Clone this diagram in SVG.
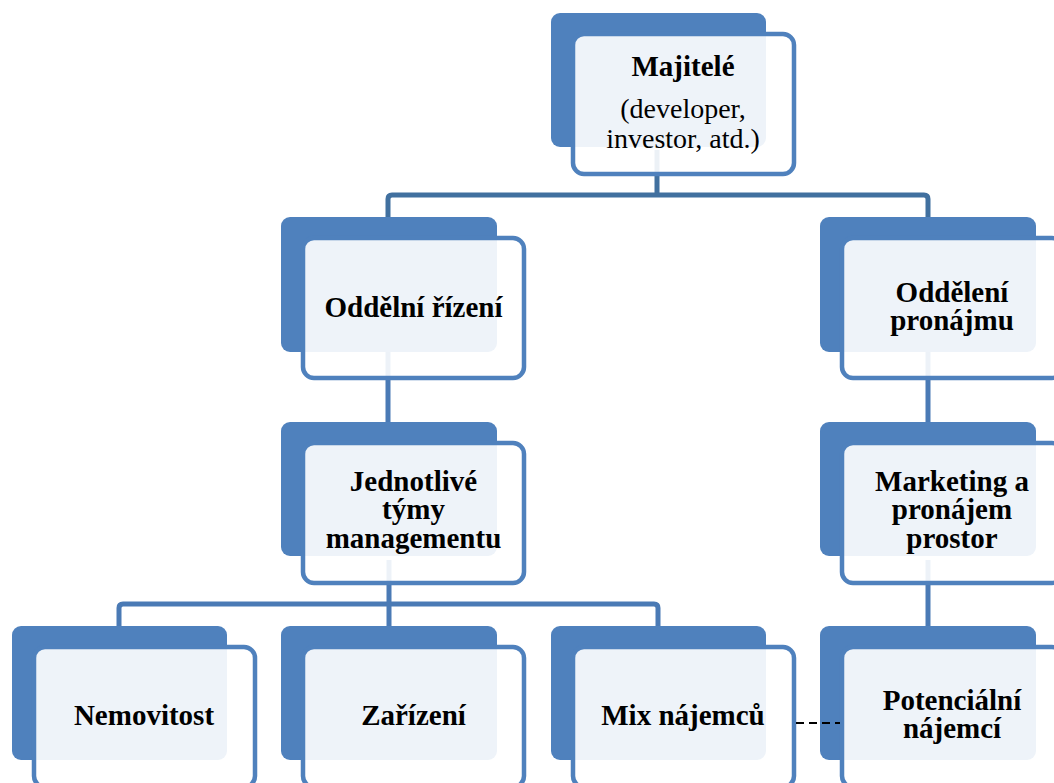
<svg xmlns="http://www.w3.org/2000/svg" width="1054" height="783" viewBox="0 0 1054 783">
<style>
.back{fill:#4F81BD}
.front{fill:#FFFFFF;fill-opacity:0.9;stroke:#4F81BD;stroke-width:4.5}
.conn{fill:none;stroke-width:5;stroke-linejoin:round}
.c1{stroke:#41709F}
.c2{stroke:#4A7AB5}
.dash{fill:none;stroke:#000;stroke-width:2;stroke-dasharray:8 5}
.t{font-size:29px;text-anchor:middle;fill:#000}
.b{font-weight:bold}
.r{font-size:28px;font-weight:normal}
</style>
<rect width="1054" height="783" fill="#FFFFFF"/>
<g id="connectors">
<path class="conn c1" d="M657,150 V195 M388,240 V199 Q388,195 392,195 H924 Q928,195 928,199 V240"/>
<path class="conn c2" d="M388,340 V430 M928,340 V430"/>
<path class="conn c2" d="M389,560 V630 M119,630 V608 Q119,604 123,604 H654 Q658,604 658,608 V630"/>
<path class="conn c2" d="M928,560 V635"/>
</g>
<g font-family="Liberation Serif, DejaVu Serif, serif">
<g id="n-majitele">
<rect class="back" x="551" y="13" width="215" height="134" rx="9"/>
<rect class="front" x="573" y="34" width="221" height="140" rx="11"/>
<text class="t b" x="683" y="76">Majitelé</text>
<text class="t r" x="683" y="118">(developer,</text>
<text class="t r" x="683" y="148">investor, atd.)</text>
</g>
<g id="n-rizeni">
<rect class="back" x="281" y="217" width="216" height="135" rx="9"/>
<rect class="front" x="303" y="238" width="221" height="140" rx="11"/>
<text class="t b" x="413.5" y="317">Oddělní řízení</text>
</g>
<g id="n-pronajmu">
<rect class="back" x="820" y="217" width="216" height="135" rx="9"/>
<rect class="front" x="842" y="238" width="221" height="140" rx="11"/>
<text class="t b" x="952" y="302">Oddělení</text>
<text class="t b" x="952" y="330">pronájmu</text>
</g>
<g id="n-tymy">
<rect class="back" x="281" y="422" width="216" height="134" rx="9"/>
<rect class="front" x="303" y="443" width="221" height="140" rx="11"/>
<text class="t b" x="413.5" y="491">Jednotlivé</text>
<text class="t b" x="413.5" y="519">týmy</text>
<text class="t b" x="413.5" y="548">managementu</text>
</g>
<g id="n-marketing">
<rect class="back" x="820" y="422" width="216" height="134" rx="9"/>
<rect class="front" x="842" y="443" width="221" height="140" rx="11"/>
<text class="t b" x="952" y="491">Marketing a</text>
<text class="t b" x="952" y="519">pronájem</text>
<text class="t b" x="952" y="548">prostor</text>
</g>
<g id="n-nemovitost">
<rect class="back" x="12" y="626" width="215" height="134" rx="9"/>
<rect class="front" x="34" y="647" width="221" height="140" rx="11"/>
<text class="t b" x="144" y="725">Nemovitost</text>
</g>
<g id="n-zarizeni">
<rect class="back" x="281" y="626" width="216" height="134" rx="9"/>
<rect class="front" x="303" y="647" width="221" height="140" rx="11"/>
<text class="t b" x="413.5" y="725">Zařízení</text>
</g>
<g id="n-mix">
<rect class="back" x="551" y="626" width="215" height="134" rx="9"/>
<rect class="front" x="573" y="647" width="221" height="140" rx="11"/>
<text class="t b" x="683" y="725">Mix nájemců</text>
</g>
<g id="n-potencialni">
<rect class="back" x="820" y="626" width="216" height="134" rx="9"/>
<rect class="front" x="842" y="647" width="221" height="140" rx="11"/>
<text class="t b" x="952" y="710">Potenciální</text>
<text class="t b" x="952" y="738">nájemcí</text>
</g>
</g>
<g id="dashed-link">
<path class="dash" d="M796,723 H840"/>
</g>
</svg>
